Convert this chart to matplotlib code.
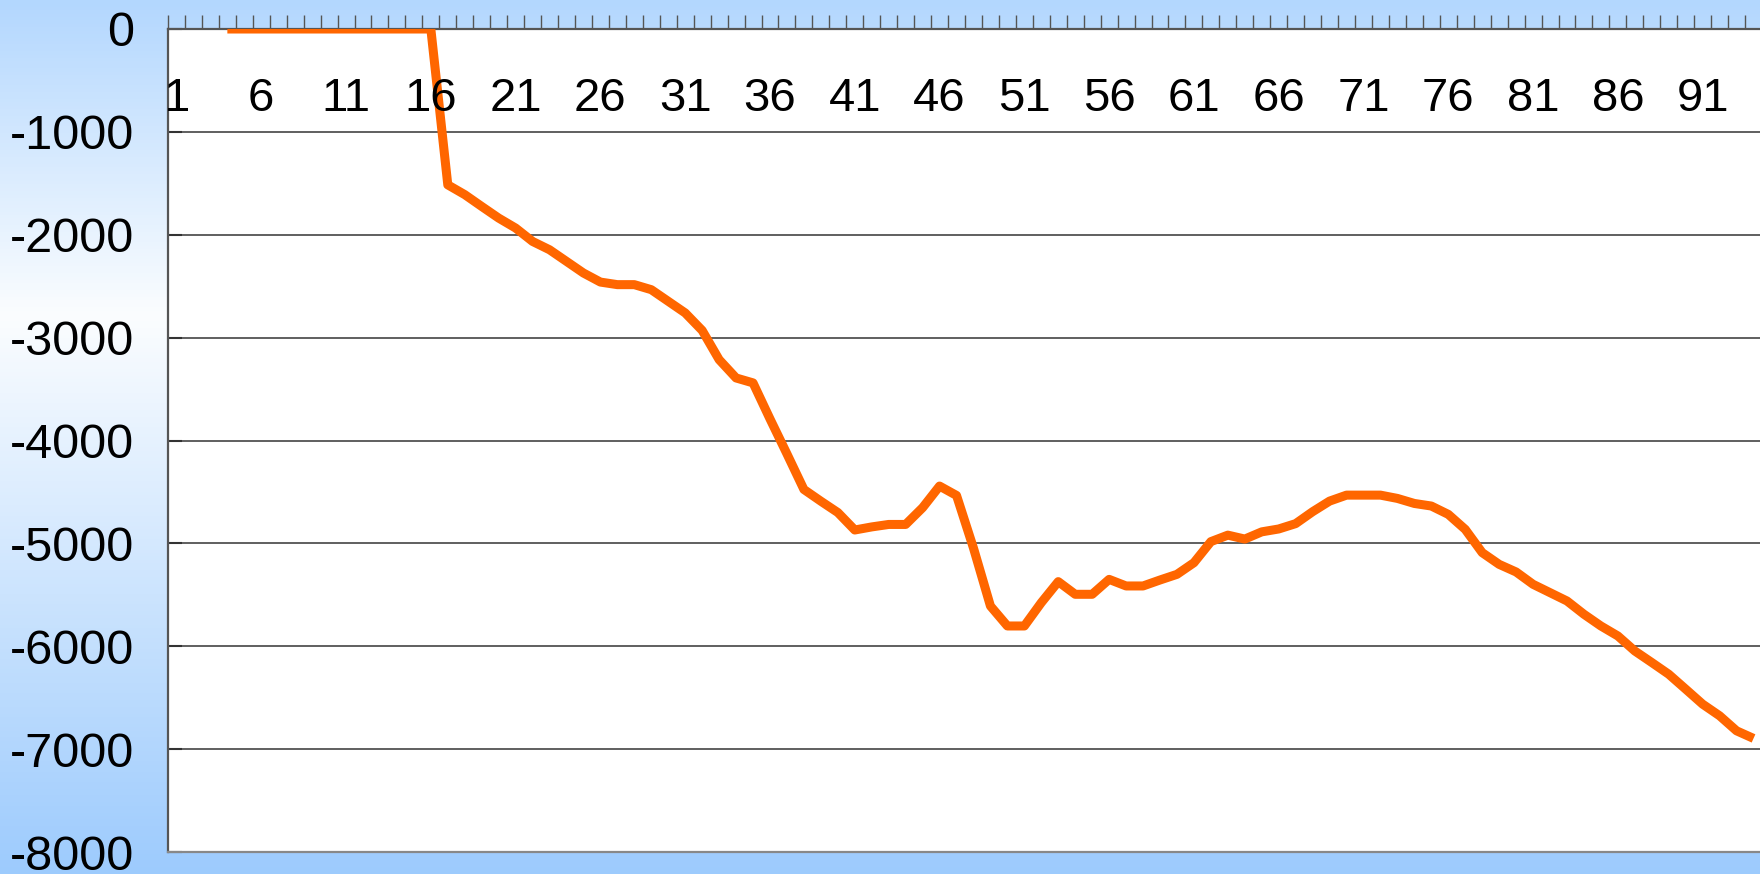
import numpy as np
import matplotlib
matplotlib.use("Agg")
import matplotlib.pyplot as plt
from matplotlib.colors import LinearSegmentedColormap

plt.rcParams['font.family'] = ['Liberation Sans', 'DejaVu Sans']
plt.rcParams['axes.unicode_minus'] = False

# categories 1..94, first three are empty
cats = np.arange(1, 95)
vals = [np.nan, np.nan, np.nan,
        0, 0, 0, 0, 0, 0, 0, 0, 0, 0, 0, 0, 0,
        -1515, -1610, -1725, -1838, -1935, -2065, -2146, -2259, -2372, -2460,
        -2485, -2485, -2534, -2647, -2760, -2930, -3214, -3392, -3440, -3790,
        -4130, -4476, -4590, -4700, -4870, -4840, -4816, -4816, -4653, -4443,
        -4534, -5046, -5609, -5803, -5803, -5576, -5372, -5495, -5495, -5350,
        -5414, -5414, -5356, -5301, -5188, -4983, -4920, -4958, -4888, -4860,
        -4808, -4692, -4589, -4531, -4531, -4531, -4563, -4612, -4637, -4718,
        -4864, -5090, -5204, -5278, -5398, -5479, -5560, -5689, -5803, -5900,
        -6046, -6158, -6272, -6417, -6563, -6676, -6822, -6896]
xlabels = [str(c) for c in range(1, 95, 5)]
yticks = list(range(-8000, 1, 1000))

fig = plt.figure(figsize=(17.6, 8.74), dpi=100)

# background gradient: blue at top, near white a third down, blue at bottom
bg = fig.add_axes([0, 0, 1, 1], zorder=0)
cmap = LinearSegmentedColormap.from_list(
    'bg', [(0.0, '#b3d7fe'), (0.36, '#fbfdff'), (1.0, '#9dcbfd')])
bg.imshow(np.linspace(0, 1, 256).reshape(-1, 1), aspect='auto', cmap=cmap,
          extent=[0, 1, 0, 1])
bg.axis('off')

ax = fig.add_axes([168/1760, 22/874, 1594/1760, 823/874], zorder=1)
ax.set_facecolor('white')
ax.plot(cats, vals, color='#ff6600', lw=6.5, solid_joinstyle='round',
        solid_capstyle='butt', zorder=3)

ax.set_xlim(0.5, 94.5)
ax.set_ylim(-8000, 0)

# category axis sits on the top at value 0
ax.xaxis.tick_top()
ax.set_xticks(np.arange(0.5, 95, 1))
ax.set_xticklabels([])
ax.tick_params(axis='x', direction='out', length=10, width=1, color='#555555')
for lab in xlabels:
    ax.text(int(lab), 0.915, lab, transform=ax.get_xaxis_transform(),
            ha='center', va='center', fontsize=34, clip_on=True)

ax.set_yticks(yticks)
ax.set_yticklabels([str(v) for v in yticks], fontsize=35)
ax.tick_params(axis='y', direction='in', length=10, width=1.5,
               color='#333333', pad=24.5)
ax.yaxis.grid(True, color='#444444', lw=1.2)
ax.set_axisbelow(True)

ax.spines['left'].set_color('#555555')
ax.spines['left'].set_linewidth(1.6)
ax.spines['top'].set_color('#555555')
ax.spines['top'].set_linewidth(1.6)
ax.spines['bottom'].set_color('#888888')
ax.spines['bottom'].set_linewidth(1.6)
ax.spines['right'].set_visible(False)

fig.savefig('out.png', dpi=100)
